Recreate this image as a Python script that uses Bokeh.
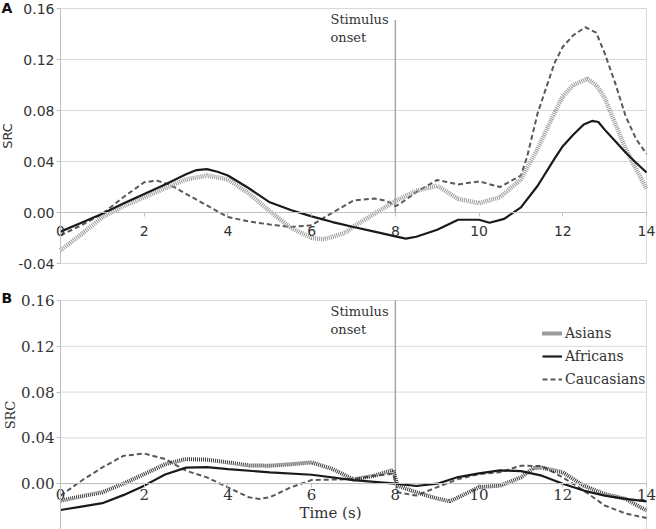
from bokeh.plotting import figure
from bokeh.layouts import column
from bokeh.models import (Label, Legend, LegendItem, FixedTicker,
                          PrintfTickFormatter, Range1d)
from bokeh.embed import file_html
from bokeh.resources import INLINE

# ---------------- data ----------------
x_ticks = [0, 2, 4, 6, 8, 10, 12, 14]
y_ticks_A = [-0.04, 0.0, 0.04, 0.08, 0.12, 0.16]
y_ticks_B = [0.0, 0.04, 0.08, 0.12, 0.16]
y_lo, y_hi = -0.04, 0.16
stimulus_onset = 8
onset_top_A = 0.151
onset_top_B = 0.16

# Panel A
A_afr_t = [0, 0.5, 1, 1.5, 2, 2.5, 3, 3.25, 3.5, 3.75, 4, 4.5, 5, 5.5, 6, 6.5,
           7, 7.5, 8, 8.25, 8.5, 9, 9.5, 10, 10.25, 10.6, 11, 11.4, 11.8, 12,
           12.25, 12.5, 12.7, 12.85, 13, 13.25, 13.5, 13.75, 14]
A_afr_v = [-0.015, -0.008, -0.001, 0.007, 0.0146, 0.022, 0.030, 0.0333, 0.034,
           0.032, 0.029, 0.019, 0.008, 0.002, -0.003, -0.0075, -0.0114, -0.015,
           -0.0187, -0.0205, -0.019, -0.0135, -0.0057, -0.0057, -0.008, -0.005,
           0.004, 0.021, 0.042, 0.052, 0.061, 0.069, 0.0718, 0.071, 0.065,
           0.056, 0.047, 0.039, 0.0314]

A_asi_t = [0, 0.5, 1, 1.5, 2, 2.5, 3, 3.5, 4, 4.5, 5, 5.5, 6, 6.3, 6.8, 7,
           7.5, 8, 8.5, 9, 9.5, 10, 10.5, 11, 11.4, 11.8, 12, 12.25, 12.58,
           12.8, 13, 13.25, 13.5, 13.75, 14]
A_asi_v = [-0.0296, -0.017, -0.0036, 0.005, 0.012, 0.019, 0.026, 0.029, 0.026,
           0.015, 0.001, -0.012, -0.020, -0.021, -0.016, -0.011, -0.001, 0.009,
           0.017, 0.021, 0.0107, 0.0073, 0.012, 0.026, 0.050, 0.078, 0.091,
           0.100, 0.1048, 0.100, 0.090, 0.070, 0.050, 0.034, 0.0187]

A_cau_t = [0, 0.5, 1, 1.5, 2, 2.3, 2.6, 3, 3.5, 4, 4.5, 5, 5.5, 6, 6.5, 7,
           7.5, 7.8, 8, 8.1, 8.5, 9, 9.5, 10, 10.5, 11, 11.15, 11.4, 11.8, 12,
           12.25, 12.54, 12.8, 13, 13.25, 13.5, 13.75, 14]
A_cau_v = [-0.018, -0.010, -0.001, 0.012, 0.0237, 0.025, 0.022, 0.0146,
           0.0055, -0.0036, -0.007, -0.0094, -0.0114, -0.010, 0.0, 0.0094,
           0.011, 0.009, 0.005, 0.0065, 0.016, 0.0255, 0.022, 0.0244, 0.020,
           0.029, 0.044, 0.078, 0.117, 0.130, 0.139, 0.1453, 0.141, 0.125,
           0.1017, 0.0757, 0.0577, 0.046]

# Panel B
B_afr_t = [0, 0.5, 1, 1.5, 2, 2.5, 3, 3.5, 4, 5, 6, 7, 8, 8.5, 9, 9.5, 10,
           10.5, 11, 11.5, 12, 12.5, 13, 13.5, 14]
B_afr_v = [-0.023, -0.020, -0.017, -0.010, -0.0017, 0.008, 0.014, 0.0145,
           0.0128, 0.0099, 0.0078, 0.0032, 0.0, -0.002, 0.0, 0.0058, 0.009,
           0.0116, 0.011, 0.007, 0.0, -0.006, -0.0104, -0.0133, -0.0154]

B_asi_t = [0, 0.5, 1, 1.5, 2, 2.5, 3, 3.5, 4, 4.5, 5, 5.5, 6, 6.5, 7, 7.5,
           7.95, 8.05, 8.5, 9, 9.3, 9.5, 10, 10.5, 11, 11.3, 11.5, 12, 12.5,
           13, 13.5, 14]
B_asi_v = [-0.0148, -0.011, -0.0075, 0.0, 0.0084, 0.017, 0.0215, 0.021,
           0.0186, 0.016, 0.0157, 0.017, 0.0186, 0.0128, 0.0037, 0.007, 0.012,
           -0.0017, -0.0075, -0.013, -0.0153, -0.012, -0.003, -0.0017, 0.0055,
           0.0137, 0.014, 0.0099, -0.0017, -0.009, -0.0133, -0.0235]

B_cau_t = [0, 0.5, 1, 1.5, 2, 2.5, 3, 3.5, 4, 4.5, 4.75, 5, 5.5, 6, 7, 7.5,
           7.95, 8.05, 8.5, 9, 9.5, 10, 10.5, 11, 11.5, 12, 12.5, 13, 13.5, 14]
B_cau_v = [-0.0104, 0.0026, 0.0142, 0.0243, 0.0264, 0.0215, 0.0113, 0.0055,
           -0.0032, -0.0119, -0.0133, -0.0119, -0.0032, 0.0032, 0.004, 0.007,
           0.0087, -0.0075, -0.0104, -0.003, 0.004, 0.0084, 0.01, 0.0157,
           0.0154, 0.0055, -0.006, -0.019, -0.026, -0.030]

series_names = ["Asians", "Africans", "Caucasians"]

# ---------------- styling / layout ----------------
GRID = "#d9d9d9"
AXIS = "#bfbfbf"
TXT = "#333333"
SANS = "DejaVu Sans"
SERIF = "DejaVu Serif"

W = 656
BOX_L, BOX_R = 60, 646          # pixel edges of the plotting box


def x_range_for_canvas():
    per_px = (x_ticks[-1] - x_ticks[0]) / (BOX_R - BOX_L)
    return Range1d(x_ticks[0] - BOX_L * per_px,
                   x_ticks[-1] + (W - BOX_R) * per_px)


def make_panel(height, box_top, box_bottom, y_ticks, font, fsize, x_standoff):
    per_px = (y_hi - y_lo) / (box_bottom - box_top)
    yr = Range1d(y_lo - (height - box_bottom) * per_px,
                 y_hi + box_top * per_px)
    p = figure(width=W, height=height, x_range=x_range_for_canvas(),
               y_range=yr, output_backend="svg", toolbar_location=None,
               min_border=0, min_border_left=0, min_border_right=0,
               min_border_top=0, min_border_bottom=0)
    p.outline_line_color = None
    p.background_fill_color = "white"
    p.border_fill_color = "white"
    p.xgrid.visible = False
    p.ygrid.visible = False

    # grid lines and box limited to the plotting area
    p.segment(x0=[x_ticks[0]] * len(y_ticks), x1=[x_ticks[-1]] * len(y_ticks),
              y0=y_ticks, y1=y_ticks, line_color=GRID, line_width=1)
    p.quad(left=[x_ticks[0]], right=[x_ticks[-1]], bottom=[y_lo], top=[y_hi],
           fill_color=None, line_color=GRID, line_width=1)

    xa = p.xaxis[0]
    xa.fixed_location = 0
    xa.bounds = (x_ticks[0], x_ticks[-1])
    xa.ticker = FixedTicker(ticks=x_ticks)
    xa.axis_line_color = AXIS
    xa.major_tick_line_color = AXIS
    xa.major_tick_out = 4
    xa.major_tick_in = 0
    xa.minor_tick_line_color = None
    xa.major_label_standoff = x_standoff
    xa.major_label_text_font = font
    xa.major_label_text_font_size = fsize
    xa.major_label_text_color = TXT

    ya = p.yaxis[0]
    ya.fixed_location = 0
    ya.bounds = (y_lo, y_hi)
    ya.ticker = FixedTicker(ticks=y_ticks)
    ya.formatter = PrintfTickFormatter(format="%.2f")
    ya.axis_line_color = AXIS
    ya.major_tick_line_color = AXIS
    ya.major_tick_out = 4
    ya.major_tick_in = 0
    ya.minor_tick_line_color = None
    ya.major_label_standoff = 2
    ya.major_label_text_font = font
    ya.major_label_text_font_size = fsize
    ya.major_label_text_color = TXT
    ya.axis_label = "SRC"
    ya.axis_label_text_font = font
    ya.axis_label_text_font_size = "13px"
    ya.axis_label_text_font_style = "normal"
    ya.axis_label_text_color = TXT
    ya.axis_label_standoff = 0
    return p


def add_onset(p, top, y_off):
    p.segment(x0=[stimulus_onset], y0=[0], x1=[stimulus_onset], y1=[top],
              line_color="#a6a6a6", line_width=1.5)
    p.add_layout(Label(x=6.45, y=y_hi, y_offset=y_off, text="Stimulus",
                       text_font=SERIF, text_font_size="13px",
                       text_color=TXT, text_baseline="top",
                       text_align="left"))
    p.add_layout(Label(x=6.45, y=y_hi, y_offset=y_off - 18, text="onset",
                       text_font=SERIF, text_font_size="13px",
                       text_color=TXT, text_baseline="top",
                       text_align="left"))


def add_panel_letter(p, letter, y):
    p.add_layout(Label(x=p.x_range.start, y=y, text=letter, text_font=SANS,
                       text_font_style="bold", text_font_size="14px",
                       text_color="#111111", text_baseline="middle",
                       text_align="left", x_offset=1))


# ---------------- panel A ----------------
pA = make_panel(270, 8, 263, y_ticks_A, SANS, "14px", 9)
add_onset(pA, onset_top_A, -3)
pA.line(A_cau_t, A_cau_v, line_color="#595959", line_width=2,
        line_dash="5 3")
pA.line(A_asi_t, A_asi_v, line_color="#9a9a9a", line_width=4.5,
        line_dash="1 1")
pA.line(A_afr_t, A_afr_v, line_color="#1a1a1a", line_width=2.2)
add_panel_letter(pA, "A", 0.1605)

# ---------------- panel B ----------------
pB = make_panel(259, 30, 259, y_ticks_B, SERIF, "15px", 1)
add_onset(pB, onset_top_B, -3)
rB_cau = pB.line(B_cau_t, B_cau_v, line_color="#595959", line_width=2,
                 line_dash="5 3")
rB_asi = pB.line(B_asi_t, B_asi_v, line_color="#3a3a3a", line_width=4,
                 line_dash="1 1")
rB_afr = pB.line(B_afr_t, B_afr_v, line_color="#1a1a1a", line_width=2.2)
add_panel_letter(pB, "B", 0.1626)
pB.add_layout(Label(x=6.45, y=-0.026, text="Time (s)", text_font=SERIF,
                    text_font_size="15px", text_color=TXT,
                    text_align="center", text_baseline="middle"))

legend = Legend(items=[LegendItem(label=series_names[0], renderers=[rB_asi]),
                       LegendItem(label=series_names[1], renderers=[rB_afr]),
                       LegendItem(label=series_names[2], renderers=[rB_cau])],
                location=(542, 140), border_line_alpha=0,
                background_fill_alpha=0, padding=0, margin=0, spacing=3,
                glyph_width=20, glyph_height=20, label_standoff=3,
                label_height=20, label_text_font=SERIF,
                label_text_font_size="14px", label_text_color=TXT)
pB.add_layout(legend)

layout = column(pA, pB, spacing=0)
open("out.html", "w").write(file_html(layout, INLINE))
